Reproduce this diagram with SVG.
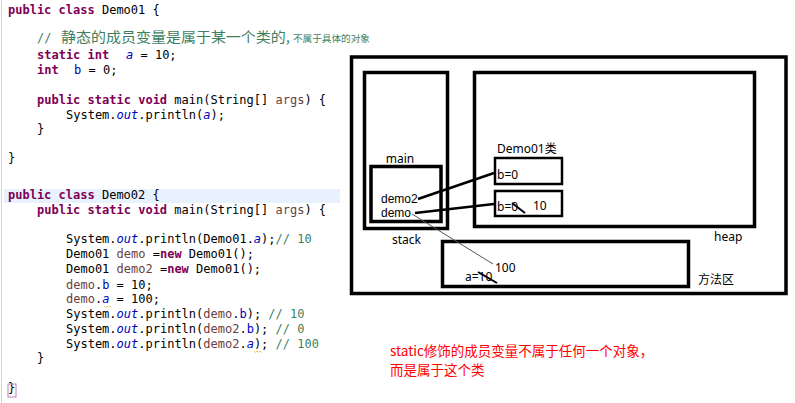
<svg xmlns="http://www.w3.org/2000/svg" width="795" height="403" viewBox="0 0 795 403">
<style>
.code{font-family:"DejaVu Sans Mono","Liberation Mono",monospace;font-size:12px;fill:#000;white-space:pre}
.kw{fill:#7f0055;font-weight:bold}
.fld{fill:#0000c0}
.it{font-style:italic}
.loc{fill:#6a3e3e}
.cm{fill:#3f7f5f}
.cjk{font-family:"Noto Sans CJK SC","Noto Sans",sans-serif}
.lbl{font-family:"Noto Sans","Noto Sans CJK SC",sans-serif;font-size:12px;fill:#000}
.var{font-family:"Liberation Sans","Noto Sans",sans-serif;font-size:12px;fill:#000}
.box{fill:none;stroke:#000;stroke-width:3.5}
.sbox{fill:none;stroke:#000;stroke-width:2.5}
.ref{stroke:#000;stroke-width:2.5;fill:none}
.thin{stroke:#555;stroke-width:1;fill:none}
.red{font-family:"Noto Sans CJK SC","Noto Sans",sans-serif;font-size:13.5px;fill:#ff0000}
</style>
<rect width="795" height="403" fill="#fff"/>
<line x1="1.5" y1="0" x2="1.5" y2="403" stroke="#d4d4d4" stroke-width="1"/>
<rect x="4" y="189" width="336" height="14" fill="#e8f2fe"/>
<g id="code" class="code">
<text x="8" y="14"><tspan class="kw">public</tspan> <tspan class="kw">class</tspan> Demo01 {</text>
<text x="37" y="42" class="cm">//</text>
<text x="61" y="42" class="cm cjk" font-size="14" textLength="229" lengthAdjust="spacingAndGlyphs">静态的成员变量是属于某一个类的,</text>
<text x="293" y="42" class="cm cjk" font-size="9.6" textLength="77" lengthAdjust="spacingAndGlyphs">不属于具体的对象</text>
<text x="37" y="59"><tspan class="kw">static</tspan> <tspan class="kw">int</tspan><tspan x="126" class="fld it">a</tspan> = 10;</text>
<text x="37" y="74"><tspan class="kw">int</tspan><tspan x="74" class="fld">b</tspan> = 0;</text>
<text x="37" y="104"><tspan class="kw">public</tspan> <tspan class="kw">static</tspan> <tspan class="kw">void</tspan> main(String[] <tspan class="loc">args</tspan>) {</text>
<text x="66" y="119">System.<tspan class="fld it">out</tspan>.println(<tspan class="fld it">a</tspan>);</text>
<text x="37" y="133">}</text>
<text x="8" y="162">}</text>
<text x="8" y="199"><tspan class="kw">public</tspan> <tspan class="kw">class</tspan> Demo02 {</text>
<text x="37" y="214"><tspan class="kw">public</tspan> <tspan class="kw">static</tspan> <tspan class="kw">void</tspan> main(String[] <tspan class="loc">args</tspan>) {</text>
<text x="66" y="243">System.<tspan class="fld it">out</tspan>.println(Demo01.<tspan class="fld it">a</tspan>);<tspan class="cm">// 10</tspan></text>
<text x="66" y="258">Demo01 <tspan class="loc">demo</tspan> =<tspan class="kw">new</tspan> Demo01();</text>
<text x="66" y="273">Demo01 <tspan class="loc">demo2</tspan> =<tspan class="kw">new</tspan> Demo01();</text>
<text x="66" y="289"><tspan class="loc">demo</tspan>.<tspan class="fld">b</tspan> = 10;</text>
<text x="66" y="303"><tspan class="loc">demo</tspan>.<tspan class="fld it">a</tspan> = 100;</text>
<text x="66" y="318">System.<tspan class="fld it">out</tspan>.println(<tspan class="loc">demo</tspan>.<tspan class="fld">b</tspan>); <tspan class="cm">// 10</tspan></text>
<text x="66" y="333">System.<tspan class="fld it">out</tspan>.println(<tspan class="loc">demo2</tspan>.<tspan class="fld">b</tspan>); <tspan class="cm">// 0</tspan></text>
<text x="66" y="348">System.<tspan class="fld it">out</tspan>.println(<tspan class="loc">demo2</tspan>.<tspan class="fld it">a</tspan>); <tspan class="cm">// 100</tspan></text>
<text x="37" y="362">}</text>
<text x="8" y="392">}</text>
</g>
<rect x="8" y="384" width="8" height="13" fill="none" stroke="#c080c0" stroke-width="1"/>
<path d="M104 306 l1.5 1.5 l1.5 -1.5 l1.5 1.5 l1.5 -1.5 l1.5 1.5" fill="none" stroke="#e0c040" stroke-width="0.8"/>
<path d="M254 351 l1.5 1.5 l1.5 -1.5 l1.5 1.5 l1.5 -1.5 l1.5 1.5" fill="none" stroke="#e0c040" stroke-width="0.8"/>

<g id="memory">
<rect x="351.5" y="57" width="434.5" height="236.5" class="box" stroke-width="3"/>
</g>
<g id="stack">
<rect x="364.5" y="72.5" width="83" height="156" class="box"/>
<text x="392" y="244" class="lbl">stack</text>
</g>
<g id="main">
<rect x="371" y="166.5" width="70" height="55" class="box"/>
<text x="400" y="163" class="lbl" text-anchor="middle">main</text>
<text x="381" y="203" class="var">demo2</text>
<text x="381" y="217" class="var">demo</text>
</g>
<g id="heap">
<rect x="474.5" y="72.5" width="280" height="154" class="box"/>
<text x="714" y="241" class="lbl">heap</text>
</g>
<g id="demo01-label">
<text x="497" y="153" class="lbl">Demo01类</text>
</g>
<g id="obj2">
<rect x="495" y="158" width="67" height="26" class="sbox"/>
<text x="497" y="179" class="lbl">b=0</text>
</g>
<g id="obj1">
<rect x="495" y="191" width="67" height="25" class="sbox"/>
<text x="497" y="211" class="lbl">b=0</text>
<line x1="512" y1="203" x2="525" y2="213" stroke="#000" stroke-width="2"/>
<text x="533" y="210" class="lbl">10</text>
</g>
<g id="method-area">
<rect x="442.5" y="241.5" width="246" height="45" class="box"/>
<text x="465" y="281" class="lbl">a=10</text>
<line x1="478" y1="272" x2="497" y2="283" stroke="#000" stroke-width="2"/>
<text x="495" y="272" class="lbl">100</text>
<text x="698" y="284" class="lbl">方法区</text>
</g>
<g id="connectors">
<line x1="418" y1="199" x2="494" y2="173" class="ref"/>
<line x1="415" y1="213" x2="494" y2="204" class="ref"/>
<line x1="412" y1="214" x2="493" y2="264" class="thin"/>
</g>
<g id="note">
<text x="390" y="356" class="red">static修饰的成员变量不属于任何一个对象，</text>
<text x="390" y="375" class="red">而是属于这个类</text>
</g>
</svg>
